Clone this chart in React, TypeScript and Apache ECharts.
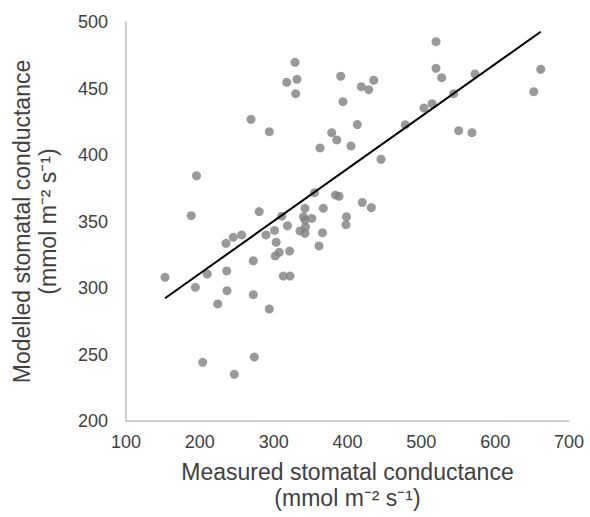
import React, { useEffect, useRef } from "react";
import * as echarts from "echarts";

// Measured (x) vs modelled (y) stomatal conductance, mmol m-2 s-1
const measured: number[] = [
  328.9, 317.7, 331.6, 329.8, 390.8, 393.9, 269.3, 294.1, 378.6, 385.4,
  362.8, 413.3, 404.7, 418.7, 428.7, 435.5, 519.9, 519.9, 527.6, 572.7,
  661.7, 652.2, 543.8, 503.6, 514.5, 478.3, 550.6, 568.6, 445.4, 195.5,
  355.3, 383.7, 388.5, 420.0, 432.2, 188.3, 280.4, 310.9, 342.4, 367.2,
  398.6, 398.0, 340.4, 342.4, 351.6, 318.7, 301.1, 289.6, 343.1, 335.7,
  342.4, 366.1, 256.7, 245.3, 235.4, 303.4, 307.5, 302.2, 321.6, 361.4,
  272.4, 236.4, 210.1, 152.8, 313.0, 322.1, 193.9, 236.8, 272.4, 224.2,
  294.1, 203.9, 273.8, 246.7,
];
const modelled: number[] = [
  469.7, 454.7, 456.9, 446.1, 459.2, 440.1, 426.8, 417.5, 416.8, 411.3,
  405.3, 422.9, 406.8, 451.4, 449.1, 456.2, 485.2, 465.2, 458.1, 460.9,
  464.4, 447.6, 446.1, 435.3, 438.6, 422.8, 418.3, 416.8, 396.8, 384.4,
  371.7, 369.9, 369.0, 364.3, 360.5, 354.4, 357.5, 354.0, 359.9, 359.9,
  353.6, 347.6, 353.6, 351.1, 352.3, 346.8, 343.3, 339.9, 345.9, 342.9,
  341.1, 341.6, 339.9, 338.1, 333.6, 334.4, 326.8, 324.1, 327.8, 331.6,
  320.5, 312.8, 310.5, 308.0, 309.0, 309.0, 300.5, 298.0, 295.0, 288.0,
  284.2, 244.1, 248.1, 235.1,
];
// Linear trend line endpoints
const trendX: number[] = [152.8, 661.7];
const trendY: number[] = [292.3, 492.7];

const xTicks = { min: 100, max: 700, interval: 100 };
const yTicks = { min: 200, max: 500, interval: 50 };

const xTitle = "Measured stomatal conductance\n(mmol m\u207B\u00B2 s\u207B\u00B9)";
const yTitle = "Modelled stomatal conductance\n(mmol m\u207B\u00B2 s\u207B\u00B9)";

export default function App() {
  const ref = useRef<HTMLDivElement>(null);
  useEffect(() => {
    document.body.style.margin = "0";
    if (!ref.current) return;
    const chart = echarts.init(ref.current, null, { renderer: "svg" });
    const font = "Liberation Sans, Arial, sans-serif";
    chart.setOption({
      animation: false,
      backgroundColor: "#ffffff",
      grid: { left: 126, top: 22, right: 21, bottom: 96 },
      xAxis: {
        type: "value",
        min: xTicks.min,
        max: xTicks.max,
        interval: xTicks.interval,
        name: xTitle,
        nameLocation: "middle",
        nameGap: 38,
        nameTextStyle: { fontFamily: font, fontSize: 23, color: "#404040", lineHeight: 26 },
        axisLine: { show: true, lineStyle: { color: "#bfbfbf", width: 1.5 } },
        axisTick: { show: false },
        splitLine: { show: false },
        axisLabel: { fontFamily: font, fontSize: 18, color: "#404040", margin: 12 },
      },
      yAxis: {
        type: "value",
        min: yTicks.min,
        max: yTicks.max,
        interval: yTicks.interval,
        name: yTitle,
        nameLocation: "middle",
        nameGap: 65,
        nameTextStyle: { fontFamily: font, fontSize: 23, color: "#404040", lineHeight: 26 },
        axisLine: { show: true, lineStyle: { color: "#bfbfbf", width: 1.5 } },
        axisTick: { show: false },
        splitLine: { show: false },
        axisLabel: { fontFamily: font, fontSize: 18, color: "#404040", margin: 18 },
      },
      series: [
        {
          type: "scatter",
          data: measured.map((x, i) => [x, modelled[i]]),
          symbol: "circle",
          symbolSize: 9,
          itemStyle: { color: "#808080" },
          z: 2,
        },
        {
          type: "line",
          data: trendX.map((x, i) => [x, trendY[i]]),
          symbol: "none",
          lineStyle: { color: "#000000", width: 2 },
          z: 3,
        },
      ],
    });
    return () => chart.dispose();
  }, []);
  return <div ref={ref} style={{ width: 590, height: 517 }} />;
}
